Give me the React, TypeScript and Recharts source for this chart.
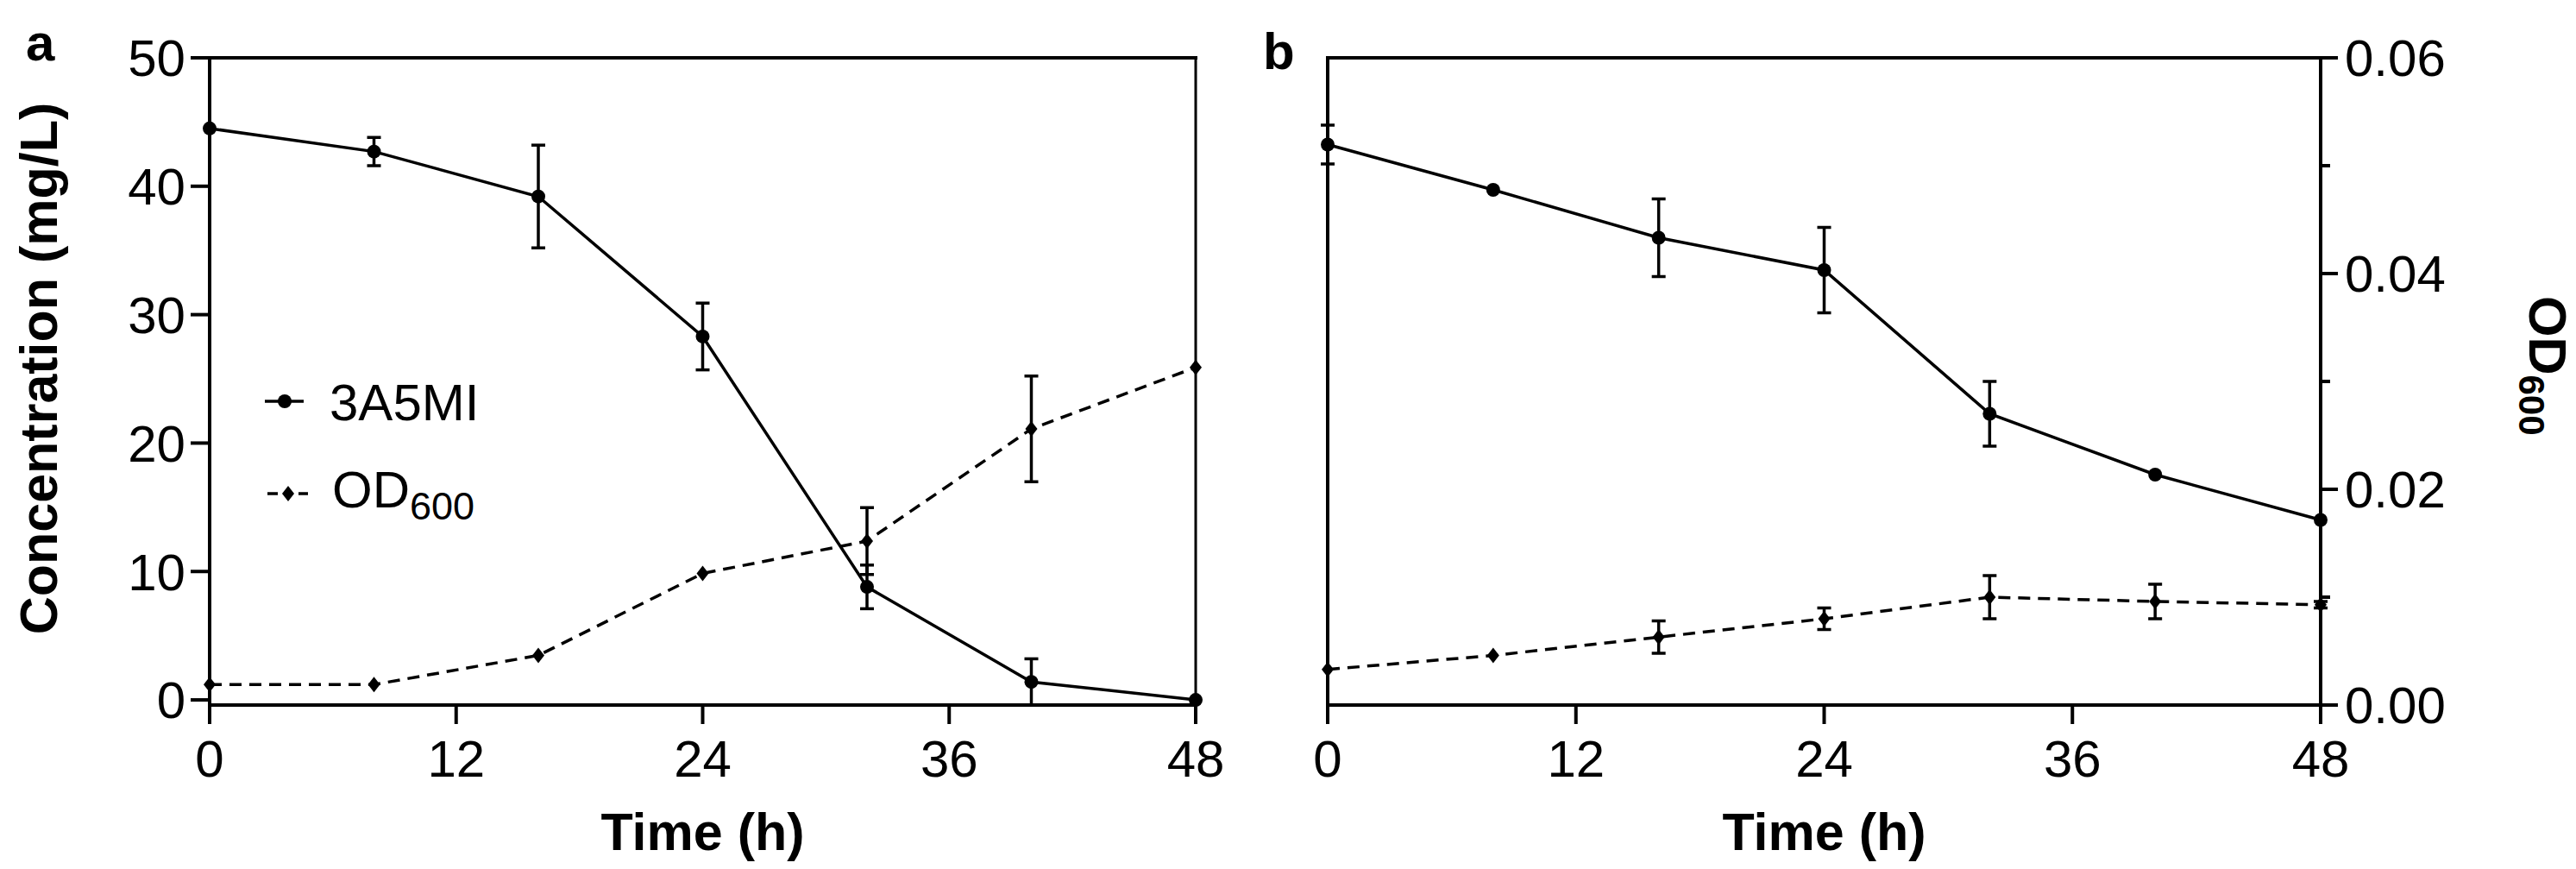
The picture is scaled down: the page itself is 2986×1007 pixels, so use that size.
import React from 'react';
import { LineChart, Line, XAxis, YAxis, ErrorBar, Legend } from 'recharts';

// ---- data ----
const timeH = [0, 8, 16, 24, 32, 40, 48];
const xTicks = [0, 12, 24, 36, 48];
const concTicks = [0, 10, 20, 30, 40, 50];
const odTicks = [0, 0.01, 0.02, 0.03, 0.04, 0.05, 0.06];

const seriesNames = ['3A5MI', 'OD'];
const seriesSub = '600';
const panelLabels = ['a', 'b'];
const xTitle = 'Time (h)';
const yTitle = 'Concentration (mg/L)';

// panel a
const a3A5MI = [44.5, 42.7, 39.2, 28.3, 8.8, 1.4, 0.0];
const a3A5MIErr = [0, 1.1, 4.0, 2.6, 1.7, 1.8, 0];
const aOD = [0.0019, 0.0019, 0.0046, 0.0122, 0.0152, 0.0256, 0.0313];
const aODErr = [0, 0, 0, 0, 0.0031, 0.0049, 0];

// panel b
const b3A5MI = [43.3, 39.8, 36.1, 33.6, 22.5, 17.8, 14.3];
const b3A5MIErr = [1.5, 0, 3.0, 3.3, 2.5, 0, 0];
const bOD = [0.0033, 0.0046, 0.0063, 0.008, 0.01, 0.0096, 0.0093];
const bODErr = [0, 0, 0.0015, 0.001, 0.002, 0.0016, 0.0003];

const dataA = timeH.map((t, i) => ({ t, c: a3A5MI[i], cErr: a3A5MIErr[i], od: aOD[i], odErr: aODErr[i] }));
const dataB = timeH.map((t, i) => ({ t, c: b3A5MI[i], cErr: b3A5MIErr[i], od: bOD[i], odErr: bODErr[i] }));

// ---- styles ----
const FONT = '"Liberation Sans", Arial, Helvetica, sans-serif';
const AX = { stroke: '#000', strokeWidth: 4, strokeLinecap: 'square' as const };
const TICK = { fontSize: 60, fill: '#000', fontFamily: FONT };
const LINE_W = 3.5;
const DASH = '14 9';

const Diamond = (props: any) => {
  const { cx, cy, index } = props;
  if (cx == null || cy == null) return <g key={`dn${index}`} />;
  return (
    <path
      key={`dm${index}`}
      d={`M${cx},${cy - 9} L${cx + 7},${cy} L${cx},${cy + 9} L${cx - 7},${cy} Z`}
      fill="#000"
    />
  );
};

const Circle = (props: any) => {
  const { cx, cy, index } = props;
  if (cx == null || cy == null) return <g key={`cn${index}`} />;
  return <circle key={`c${index}`} cx={cx} cy={cy} r={8} fill="#000" />;
};

const LegendContent = () => (
  <svg width={320} height={180} style={{ overflow: 'visible', display: 'block' }}>
    <line x1={7} x2={52} y1={45} y2={45} stroke="#000" strokeWidth={LINE_W} />
    <circle cx={30} cy={45} r={8} fill="#000" />
    <text x={82} y={67} fontSize={60} fontFamily={FONT} fill="#000">
      {seriesNames[0]}
    </text>
    <line x1={10} x2={22} y1={152} y2={152} stroke="#000" strokeWidth={LINE_W} />
    <line x1={46} x2={57} y1={152} y2={152} stroke="#000" strokeWidth={LINE_W} />
    <path d="M34,143 L41,152 L34,161 L27,152 Z" fill="#000" />
    <text x={85} y={168} fontSize={60} fontFamily={FONT} fill="#000">
      {seriesNames[1]}
      <tspan fontSize={45} dy={14}>
        {seriesSub}
      </tspan>
    </text>
  </svg>
);

const RightTick = (props: any) => {
  const { x, y, payload } = props;
  const v = payload.value as number;
  const major = Math.round(v * 100) % 2 === 0;
  return (
    <g>
      <line x1={x} x2={x + (major ? 20 : 11)} y1={y} y2={y} stroke="#000" strokeWidth={4} />
      {major && (
        <text x={x + 28} y={y} dy="0.355em" textAnchor="start" fontSize={60} fontFamily={FONT} fill="#000">
          {v.toFixed(2)}
        </text>
      )}
    </g>
  );
};

export default function App() {
  return (
    <div style={{ position: 'absolute', left: 0, top: 0, width: 2986, height: 1007, background: '#fff' }}>
      {/* Panel a */}
      <div style={{ position: 'absolute', left: 0, top: 0 }}>
        <LineChart width={1460} height={1007} data={dataA} margin={{ top: 66, right: 73, bottom: 0, left: 0 }}>
          <XAxis
            xAxisId="bottom"
            dataKey="t"
            type="number"
            domain={[0, 48]}
            ticks={xTicks}
            interval={0}
            tickSize={20}
            tickMargin={20}
            height={190}
            axisLine={AX}
            tickLine={AX}
            tick={TICK}
            label={{
              content: () => (
                <text x={(243 + 1386) / 2} y={985} textAnchor="middle" fontSize={61} fontWeight={700} fontFamily={FONT} fill="#000">
                  {xTitle}
                </text>
              ),
            }}
          />
          <XAxis
            xAxisId="top"
            orientation="top"
            dataKey="t"
            type="number"
            domain={[0, 48]}
            ticks={xTicks}
            tick={false}
            tickLine={false}
            height={1}
            axisLine={AX}
            label={{
              content: () => (
                <text x={30} y={70} fontSize={60} fontWeight={700} fontFamily={FONT} fill="#000">
                  {panelLabels[0]}
                </text>
              ),
            }}
          />
          <YAxis
            yAxisId="conc"
            domain={[0, 50]}
            ticks={concTicks}
            interval={0}
            width={243}
            tickSize={20}
            tickMargin={8}
            axisLine={AX}
            tickLine={AX}
            tick={TICK}
            label={{
              content: () => (
                <text
                  x={66}
                  y={427}
                  transform="rotate(-90, 66, 427)"
                  textAnchor="middle"
                  fontSize={61}
                  fontWeight={700}
                  fontFamily={FONT}
                  fill="#000"
                >
                  {yTitle}
                </text>
              ),
            }}
          />
          <YAxis
            yAxisId="od"
            orientation="right"
            domain={[0, 0.06]}
            ticks={odTicks}
            tick={false}
            tickLine={false}
            width={1}
            axisLine={{ stroke: '#000', strokeWidth: 3, strokeLinecap: 'square' }}
          />
          <Line
            xAxisId="bottom"
            yAxisId="od"
            dataKey="od"
            type="linear"
            stroke="#000"
            strokeWidth={LINE_W}
            strokeDasharray={DASH}
            dot={Diamond}
            isAnimationActive={false}
          >
            <ErrorBar dataKey="odErr" width={8} stroke="#000" strokeWidth={3.5} direction="y" />
          </Line>
          <Line
            xAxisId="bottom"
            yAxisId="conc"
            dataKey="c"
            type="linear"
            stroke="#000"
            strokeWidth={LINE_W}
            dot={Circle}
            isAnimationActive={false}
          >
            <ErrorBar dataKey="cErr" width={8} stroke="#000" strokeWidth={3.5} direction="y" />
          </Line>
          <Legend
            layout="vertical"
            align="center"
            verticalAlign="middle"
            content={LegendContent}
            wrapperStyle={{ position: 'absolute', left: 300, top: 420, width: 320, height: 180 }}
          />
        </LineChart>
      </div>

      {/* Panel b */}
      <div style={{ position: 'absolute', left: 1460, top: 0 }}>
        <LineChart width={1526} height={1007} data={dataB} margin={{ top: 66, right: 0, bottom: 0, left: 0 }}>
          <XAxis
            xAxisId="bottom"
            dataKey="t"
            type="number"
            domain={[0, 48]}
            ticks={xTicks}
            interval={0}
            tickSize={20}
            tickMargin={20}
            height={190}
            axisLine={AX}
            tickLine={AX}
            tick={TICK}
            label={{
              content: () => (
                <text x={(79 + 1230) / 2} y={985} textAnchor="middle" fontSize={61} fontWeight={700} fontFamily={FONT} fill="#000">
                  {xTitle}
                </text>
              ),
            }}
          />
          <XAxis
            xAxisId="top"
            orientation="top"
            dataKey="t"
            type="number"
            domain={[0, 48]}
            ticks={xTicks}
            tick={false}
            tickLine={false}
            height={1}
            axisLine={AX}
            label={{
              content: () => (
                <text x={4} y={80} fontSize={60} fontWeight={700} fontFamily={FONT} fill="#000">
                  {panelLabels[1]}
                </text>
              ),
            }}
          />
          <YAxis
            yAxisId="conc"
            domain={[0, 50]}
            ticks={concTicks}
            tick={false}
            tickLine={false}
            width={79}
            axisLine={AX}
          />
          <YAxis
            yAxisId="od"
            orientation="right"
            domain={[0, 0.06]}
            ticks={odTicks}
            interval={0}
            width={296}
            tickSize={0}
            tickMargin={0}
            tickLine={false}
            axisLine={AX}
            tick={RightTick}
            label={{
              content: () => (
                <text
                  x={1472}
                  y={343}
                  transform="rotate(90, 1472, 343)"
                  textAnchor="start"
                  fontSize={61}
                  fontWeight={700}
                  fontFamily={FONT}
                  fill="#000"
                >
                  {seriesNames[1]}
                  <tspan fontSize={42} dy={12}>
                    {seriesSub}
                  </tspan>
                </text>
              ),
            }}
          />
          <Line
            xAxisId="bottom"
            yAxisId="od"
            dataKey="od"
            type="linear"
            stroke="#000"
            strokeWidth={LINE_W}
            strokeDasharray={DASH}
            dot={Diamond}
            isAnimationActive={false}
          >
            <ErrorBar dataKey="odErr" width={8} stroke="#000" strokeWidth={3.5} direction="y" />
          </Line>
          <Line
            xAxisId="bottom"
            yAxisId="conc"
            dataKey="c"
            type="linear"
            stroke="#000"
            strokeWidth={LINE_W}
            dot={Circle}
            isAnimationActive={false}
          >
            <ErrorBar dataKey="cErr" width={8} stroke="#000" strokeWidth={3.5} direction="y" />
          </Line>
        </LineChart>
      </div>
    </div>
  );
}
